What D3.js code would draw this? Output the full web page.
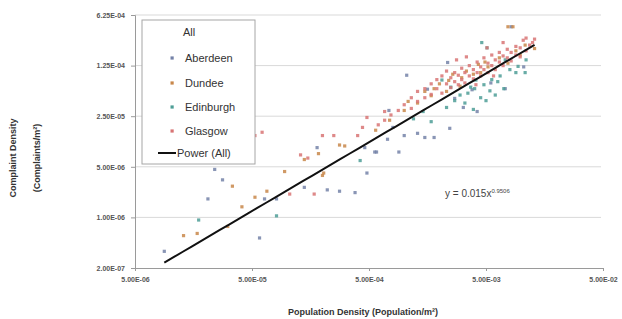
<!DOCTYPE html>
<html><head><meta charset="utf-8">
<script src="https://cdn.jsdelivr.net/npm/d3@7"></script>
<style>body{margin:0;background:#fff}svg{display:block}</style>
</head><body>
<script>
// ---- data (population density, complaint density) ----
const seriesNames = ["Aberdeen","Dundee","Edinburgh","Glasgow"];
const seriesColors = ["#7482a8","#c8874a","#4e9e96","#d87474"];
const xTicks = [5e-6,5e-5,5e-4,5e-3,5e-2];
const xTickLabels = ["5.00E-06","5.00E-05","5.00E-04","5.00E-03","5.00E-02"];
const yTicks = [2e-7,1e-6,5e-6,2.5e-5,1.25e-4,6.25e-4];
const yTickLabels = ["2.00E-07","1.00E-06","5.00E-06","2.50E-05","1.25E-04","6.25E-04"];
const fitCoef = 0.015, fitExp = 0.9506;

const aberdeen = [[8.9e-6,3.4e-7],[5.8e-5,5.2e-7],[8.1e-5,1.8e-6],[6.4e-5,1.8e-6],[1.4e-4,2.6e-6],[2.2e-4,2.4e-6],
 [2.8e-4,2.3e-6],[3.8e-4,2.2e-6],[4.8e-4,4.1e-6],[5.8e-4,8.0e-6],[9.0e-4,8.0e-6],[7.2e-4,1.2e-5],[8.0e-4,1.75e-5],
 [1.0e-3,1.35e-5],[1.3e-3,1.45e-5],[1.5e-3,1.27e-5],[1.8e-3,1.27e-5],[2.45e-3,1.7e-5],[1.05e-3,9.2e-5],[7.4e-4,3.0e-5],
 [1.58e-3,5.9e-5],[4.2e-3,2.9e-5],[3.2e-3,3.3e-5],[7.3e-3,6.0e-5],[1.05e-2,1.2e-4],[2.35e-3,1.38e-4],[8.2e-3,4.3e-4],
 [1.8e-4,9.2e-6],[4.6e-4,9.2e-6],[5.6e-4,8.0e-6],[2.4e-5,4.6e-6],[2.8e-5,3.3e-6],[2.1e-5,1.8e-6],
 [2.7e-3,4.4e-5],[3.8e-3,5.8e-5],[5.5e-3,7.2e-5]];
const dundee = [[2.0e-4,3.8e-6],[2.05e-4,4.1e-6],[1.85e-4,7.6e-6],[1.4e-4,6.3e-6],[9.5e-5,4.3e-6],[6.7e-5,2.3e-6],
 [5.3e-5,1.9e-6],[4.1e-5,1.4e-6],[3.4e-5,2.7e-6],[4.0e-5,6.3e-6],[3.1e-5,7.5e-7],[1.7e-5,6.0e-7],[1.3e-5,5.6e-7],
 [2.0e-3,7.0e-5],[2.6e-3,9.5e-5],[3.4e-3,1.05e-4],[4.3e-3,1.3e-4],[5.2e-3,1.2e-4],[6.5e-3,1.6e-4],[9.0e-3,2.0e-4],
 [1.08e-2,2.4e-4],[1.3e-2,2.15e-4],[7.7e-3,4.3e-4],[8.5e-3,4.3e-4],[3.0e-3,6.5e-5],[2.3e-3,5.5e-5],[1.7e-3,4.8e-5],
 [1.3e-3,3.8e-5],[1.0e-3,3.0e-5],[7.5e-4,2.2e-5],[5.7e-4,1.6e-5],[3.1e-4,9.7e-6],[2.8e-4,1.0e-5],[4.5e-3,1.0e-4],
 [2.4e-3,7.8e-5],[3.1e-3,8.5e-5],[3.9e-3,9.5e-5],[4.9e-3,1.4e-4],[7.7e-3,1.35e-4],[9.8e-3,1.75e-4],[1.8e-3,6.0e-5],
 [1.5e-3,5.5e-5],[1.08e-3,4.0e-5]];
const edinburgh = [[4.6e-3,2.6e-4],[5.1e-3,2.2e-4],[1.1e-2,1.5e-4],[9.4e-3,1.22e-4],[1.08e-2,1.0e-4],[6.3e-3,7.5e-5],
 [7.1e-3,6.0e-5],[5.4e-3,5.6e-5],[3.9e-3,3.1e-5],[4.5e-3,4.5e-5],[3.7e-3,6.3e-5],[3.0e-3,4.9e-5],[2.7e-3,4.1e-5],
 [3.3e-3,3.8e-5],[5.0e-3,4.1e-5],[6.0e-3,4.9e-5],[2.5e-3,6.3e-5],[2.1e-3,7.9e-5],[4.1e-3,7.9e-5],[7.3e-3,1.5e-4],
 [2.3e-3,3.3e-5],[4.2e-4,6.1e-6],[8.1e-5,1.05e-6],[1.75e-5,9.2e-7],[1.2e-3,2.3e-5],[1.45e-3,2.9e-5],[1.7e-3,2.1e-5],
 [3.5e-3,5.2e-5],[4.0e-3,6.0e-5],[4.8e-3,6.8e-5],[5.6e-3,8.0e-5],[6.6e-3,9.0e-5],[8.0e-3,1.1e-4],[9.0e-3,1.0e-4]];
const glasgow = [[1.9e-3,6.0e-5],[1.9e-3,8.0e-5],[2.1e-3,5.2e-5],[2.1e-3,9.0e-5],[2.3e-3,7.0e-5],[2.3e-3,1.05e-4],
 [2.5e-3,6.2e-5],[2.5e-3,8.5e-5],[2.7e-3,7.5e-5],[2.7e-3,1.0e-4],[2.9e-3,6.8e-5],[2.9e-3,9.2e-5],[3.1e-3,8.0e-5],
 [3.1e-3,1.15e-4],[3.3e-3,7.2e-5],[3.3e-3,1.0e-4],[3.6e-3,9.0e-5],[3.6e-3,1.25e-4],[3.9e-3,8.2e-5],[3.9e-3,1.1e-4],
 [4.2e-3,1.0e-4],[4.2e-3,1.4e-4],[4.5e-3,9.0e-5],[4.5e-3,1.2e-4],[4.8e-3,1.1e-4],[4.8e-3,1.6e-4],[5.2e-3,1.0e-4],
 [5.2e-3,1.35e-4],[5.6e-3,1.25e-4],[5.6e-3,1.75e-4],[6.0e-3,1.1e-4],[6.0e-3,1.5e-4],[6.5e-3,1.4e-4],[6.5e-3,1.9e-4],
 [7.0e-3,1.25e-4],[7.0e-3,1.7e-4],[7.6e-3,1.6e-4],[7.6e-3,2.1e-4],[8.2e-3,1.45e-4],[8.2e-3,1.9e-4],[9.0e-3,1.75e-4],
 [9.0e-3,2.3e-4],[9.8e-3,1.65e-4],[9.8e-3,2.2e-4],[1.04e-2,2.8e-4],[1.1e-2,3.0e-4],[1.1e-2,2.0e-4],[1.18e-2,2.4e-4],
 [1.25e-2,2.6e-4],[1.3e-2,2.9e-4],[2.8e-3,1.5e-4],[3.4e-3,1.65e-4],[5.1e-3,2.2e-4],[7.0e-3,2.6e-4],
 [1.5e-3,4.5e-5],[1.5e-3,6.0e-5],[1.7e-3,5.0e-5],[1.7e-3,7.0e-5],[1.3e-3,4.0e-5],[1.3e-3,5.5e-5],[1.15e-3,3.2e-5],
 [1.15e-3,4.5e-5],[1.0e-3,3.6e-5],[8.9e-4,3.0e-5],[7.7e-4,2.6e-5],[6.8e-4,2.2e-5],[6.8e-4,2.9e-5],[6.0e-4,1.9e-5],
 [4.8e-4,2.4e-5],[4.4e-4,1.75e-5],[4.0e-4,1.35e-5],[2.5e-4,1.35e-5],[2.0e-4,1.35e-5],[1.3e-4,7.3e-6],[1.5e-4,6.6e-6],
 [6.1e-5,1.5e-5],[5.3e-5,1.35e-5],[4.6e-5,1.25e-5],[1.7e-4,2.1e-6],[1.05e-4,2.1e-6],[4.1e-3,6.8e-5],[5.8e-3,9.0e-5]];
const allSeries = [aberdeen, dundee, edinburgh, glasgow];

// ---- layout ----
const W = 622, H = 319;
const svg = d3.select("body").append("svg").attr("width", W).attr("height", H)
  .style("font-family", "'Liberation Sans', Arial, sans-serif");
const L = 135, R = 603, T = 15, B = 268;
const x = d3.scaleLog().domain([5e-6, 5e-2]).range([L, R]);
const y = d3.scaleLog().base(5).domain([2e-7, 6.25e-4]).range([B, T]);

// gridlines
svg.append("g").selectAll("line").data(yTicks.slice(1)).join("line")
  .attr("x1", L).attr("x2", R - 2).attr("y1", d => y(d)).attr("y2", d => y(d))
  .attr("stroke", "#d9d9d9").attr("stroke-width", 1);

// axes
const xAxis = d3.axisBottom(x).tickValues(xTicks).tickFormat((d, i) => xTickLabels[i]).tickSize(3).tickPadding(6);
const gx = svg.append("g").attr("transform", `translate(0,${B})`).call(xAxis);
const yAxis = d3.axisLeft(y).tickValues(yTicks).tickFormat((d, i) => yTickLabels[i]).tickSize(4).tickPadding(6);
const gy = svg.append("g").attr("transform", `translate(${L},0)`).call(yAxis);
[gx, gy].forEach(g => {
  g.select(".domain").attr("stroke", "#9a9a9a");
  g.selectAll(".tick line").attr("stroke", "#9a9a9a");
  g.selectAll(".tick text").attr("fill", "#555").attr("font-size", 7).attr("font-weight", "bold");
});

// points
allSeries.forEach((s, i) => {
  svg.append("g").selectAll("rect").data(s).join("rect")
    .attr("x", d => x(d[0]) - 1.6).attr("y", d => y(d[1]) - 1.6)
    .attr("width", 3.2).attr("height", 3.2)
    .attr("fill", seriesColors[i]).attr("fill-opacity", 0.85);
});

// power trendline
const allPts = allSeries.flat();
const xExt = d3.extent(allPts, d => d[0]);
const lineData = d3.range(0, 41).map(k => {
  const xv = Math.exp(Math.log(xExt[0]) + k / 40 * (Math.log(xExt[1]) - Math.log(xExt[0])));
  return [xv, fitCoef * Math.pow(xv, fitExp)];
});
svg.append("path").datum(lineData)
  .attr("d", d3.line().x(d => x(d[0])).y(d => y(d[1])))
  .attr("fill", "none").attr("stroke", "#111").attr("stroke-width", 2);

// equation
const eq = svg.append("text").attr("x", 445).attr("y", 197).attr("font-size", 10).attr("fill", "#444");
eq.append("tspan").text(`y = ${fitCoef}x`);
eq.append("tspan").attr("dy", -4).attr("font-size", 6).text(fitExp.toFixed(4));

// legend
const lg = svg.append("g");
lg.append("rect").attr("x", 142).attr("y", 20).attr("width", 113).attr("height", 144)
  .attr("fill", "#fff").attr("stroke", "#a6a6a6").attr("stroke-width", 1);
lg.append("text").attr("x", 183).attr("y", 36).attr("font-size", 11).attr("fill", "#333").text("All");
const legY = [58, 83, 107, 131];
seriesNames.forEach((n, i) => {
  lg.append("rect").attr("x", 170.5).attr("y", legY[i] - 1.6).attr("width", 3.2).attr("height", 3.2)
    .attr("fill", seriesColors[i]);
  lg.append("text").attr("x", 185).attr("y", legY[i] + 4).attr("font-size", 11).attr("fill", "#333").text(n);
});
lg.append("line").attr("x1", 158).attr("x2", 176).attr("y1", 153).attr("y2", 153)
  .attr("stroke", "#111").attr("stroke-width", 2);
lg.append("text").attr("x", 177).attr("y", 157).attr("font-size", 11).attr("fill", "#333").text("Power (All)");

// axis titles
const yt = svg.append("text").attr("transform", "translate(0,158) rotate(-90)")
  .attr("text-anchor", "middle").attr("font-size", 9).attr("font-weight", "bold").attr("fill", "#333");
yt.append("tspan").attr("x", 0).attr("y", 16).text("Complaint Density");
yt.append("tspan").attr("x", 0).attr("y", 40).text("(Complaints/m²)");
svg.append("text").attr("x", 363).attr("y", 315).attr("text-anchor", "middle")
  .attr("font-size", 9).attr("font-weight", "bold").attr("fill", "#333")
  .text("Population Density (Population/m²)");
</script>
</body></html>
